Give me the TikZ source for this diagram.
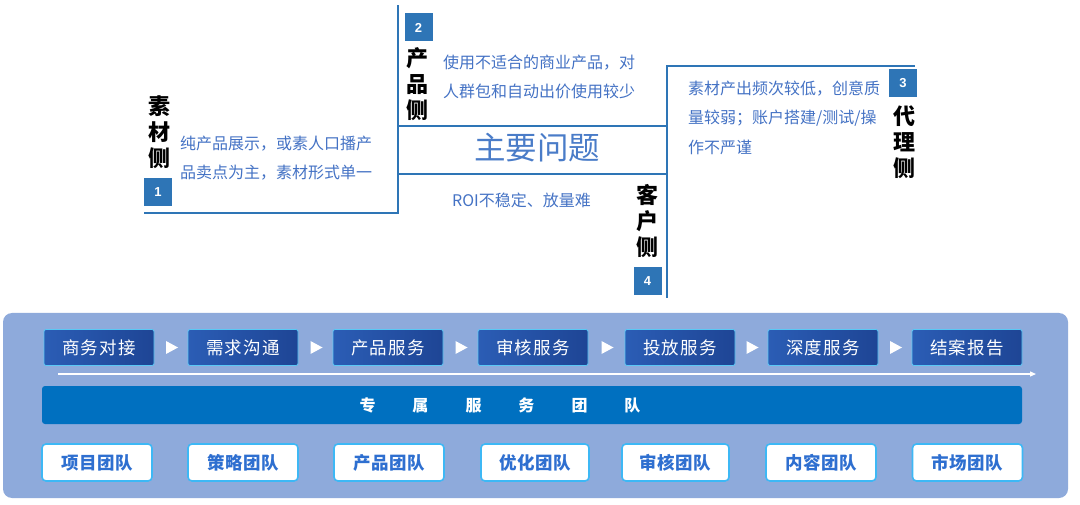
\documentclass[tikz,border=0pt]{standalone}
\usepackage{fontspec}
\setmainfont{Noto Sans CJK SC}
\newfontfamily\numfont{Liberation Sans}
\usetikzlibrary{calc,arrows.meta}
\definecolor{lineblue}{HTML}{2E75B6}
\definecolor{descblue}{HTML}{4472C4}
\definecolor{mainblue}{HTML}{4A7CC8}
\definecolor{panel}{HTML}{8EAADB}
\definecolor{procL}{HTML}{2B5DB5}
\definecolor{procR}{HTML}{1E4595}
\definecolor{procB}{HTML}{5AC8F5}
\definecolor{band}{HTML}{0070C0}
\definecolor{teamB}{HTML}{3DB8F5}
\definecolor{teamT}{HTML}{2E6FD0}
\tikzset{
  frame/.style={draw=lineblue, line width=1.5pt},
  numbox/.style={fill=lineblue, minimum width=28pt, minimum height=28pt, inner sep=0pt,
     text=white, font=\numfont\bfseries\fontsize{13}{13}\selectfont},
  sidelabel/.style={align=center, inner sep=0pt, text=black,
     font=\bfseries\fontsize{22}{26}\selectfont},
  desc/.style={align=left, anchor=west, inner sep=0pt, text=descblue,
     font=\fontsize{16}{29.5}\selectfont},
  procbox/.style={left color=procL, right color=procR, draw=procB, line width=0.8pt,
     rounded corners=2pt, minimum width=110pt, minimum height=36pt, inner sep=0pt,
     text=white, font=\fontsize{17.5}{17.5}\selectfont\addfontfeature{LetterSpace=6}},
  teambox/.style={fill=white, draw=teamB, line width=1.6pt, rounded corners=4pt,
     minimum width=110pt, minimum height=37pt, inner sep=0pt,
     text=teamT, font=\bfseries\fontsize{17.5}{17.5}\selectfont\addfontfeature{LetterSpace=3}},
}
\begin{document}
\begin{tikzpicture}[x=1pt,y=-1pt]
\useasboundingbox (0,0) rectangle (1080,505);

% ---------- top structure ----------
\draw[frame] (144,213) -- (398,213) -- (398,5);
\draw[frame] (398,126) -- (667,126);
\draw[frame] (398,174) -- (667,174);
\draw[frame] (667,298) -- (667,66) -- (915,66);

\node[numbox] (n1) at (158,192) {1};
\node[numbox] (n2) at (418.5,27.5) {2};
\node[numbox] (n3) at (903,83) {3};
\node[numbox] (n4) at (647.5,281.5) {4};

\node[sidelabel] (s1) at (159,132) {素\\材\\侧};
\node[sidelabel] (s2) at (417,84) {产\\品\\侧};
\node[sidelabel] (s3) at (904,142) {代\\理\\侧};
\node[sidelabel] (s4) at (647,221) {客\\户\\侧};

\node[desc] (d1) at (180,158) {纯产品展示，或素人口播产\\品卖点为主，素材形式单一};
\node[desc] (d2) at (443,77) {使用不适合的商业产品，对\\人群包和自动出价使用较少};
\node[desc] (d3) at (688,117.5) {素材产出频次较低，创意质\\量较弱；账户搭建/测试/操\\作不严谨};
\node[desc] (d4) at (452,200) {ROI不稳定、放量难};
\node[inner sep=0pt, text=mainblue, font=\fontsize{31.5}{31.5}\selectfont] (main) at (537,148) {主要问题};

% ---------- bottom panel ----------
\fill[panel, rounded corners=9pt] (3,313) rectangle (1068,498);

\node[procbox] (p1) at (99,347.5) {商务对接};
\node[procbox] (p2) at (243,347.5) {需求沟通};
\node[procbox] (p3) at (388,347.5) {产品服务};
\node[procbox] (p4) at (533,347.5) {审核服务};
\node[procbox] (p5) at (680,347.5) {投放服务};
\node[procbox] (p6) at (823,347.5) {深度服务};
\node[procbox] (p7) at (967,347.5) {结案报告};

\foreach \a/\b in {p1/p2,p2/p3,p3/p4,p4/p5,p5/p6,p6/p7}{
  \fill[white] ($(\a.east)!0.5!(\b.west)+(-5,-6.5)$) -- ++(12,6.5) -- ++(-12,6.5) -- cycle;
}

\coordinate (lineS) at (58,374);
\coordinate (lineE) at (1036,374);
\draw[white, line width=1.2pt, -{Triangle[length=6pt,width=5pt]}] (lineS) -- (lineE);

\fill[band, rounded corners=3pt] (42,386) rectangle (1022,424);
\node[inner sep=0pt, text=white, font=\bfseries\fontsize{16}{16}\selectfont] (bandtext) at (500,405)
  {专\hspace{37pt}属\hspace{37pt}服\hspace{37pt}务\hspace{37pt}团\hspace{37pt}队};

\node[teambox] (t1) at (97,462.5) {项目团队};
\node[teambox] (t2) at (243,462.5) {策略团队};
\node[teambox] (t3) at (389,462.5) {产品团队};
\node[teambox, minimum width=108pt] (t4) at (535,462.5) {优化团队};
\node[teambox, minimum width=107pt] (t5) at (675.5,462.5) {审核团队};
\node[teambox] (t6) at (821,462.5) {内容团队};
\node[teambox] (t7) at (967.5,462.5) {市场团队};
\end{tikzpicture}
\end{document}
